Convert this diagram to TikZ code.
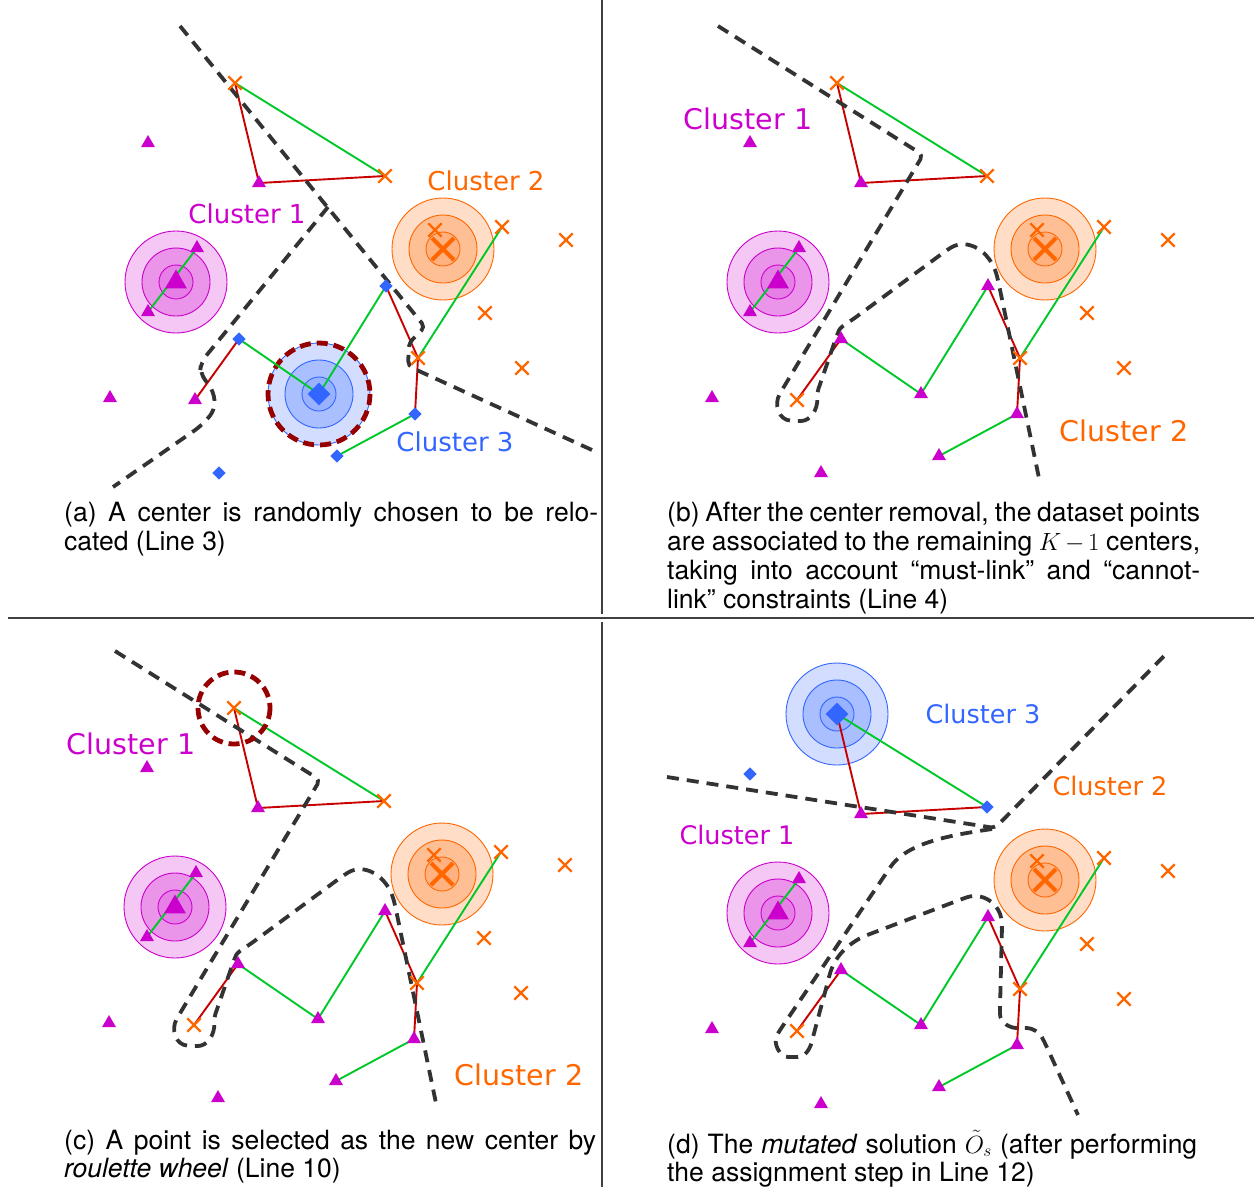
\documentclass[tikz,border=0pt]{standalone}
\usepackage{fontspec}
\setmainfont{TeX Gyre Heros}
\newfontfamily\dejavu{DejaVu Sans}
\usetikzlibrary{shapes.geometric,shapes.misc}
\definecolor{cmag}{RGB}{204,0,204}
\definecolor{corg}{RGB}{255,102,0}
\definecolor{cblu}{RGB}{51,102,255}
\definecolor{cgrn}{RGB}{0,200,40}
\definecolor{cred}{RGB}{200,0,0}
\definecolor{cdash}{RGB}{51,51,51}
\definecolor{cdred}{RGB}{150,0,0}

\newcommand\defpoints[1]{%
  \coordinate (#1p1) at (235,83);
  \coordinate (#1p2) at (385,176);
  \coordinate (#1p3) at (259,183);
  \coordinate (#1p4) at (148,143);
  \coordinate (#1mc) at (176,282);
  \coordinate (#1m1) at (197,248);
  \coordinate (#1m2) at (148,312);
  \coordinate (#1oc) at (443,249);
  \coordinate (#1o1) at (435,230);
  \coordinate (#1o2) at (502,227);
  \coordinate (#1o3) at (566,240);
  \coordinate (#1o4) at (485,313);
  \coordinate (#1o5) at (522,368);
  \coordinate (#1o6) at (418,358);
  \coordinate (#1q1) at (386,286);
  \coordinate (#1q2) at (239,339);
  \coordinate (#1qc) at (319,394);
  \coordinate (#1q3) at (415,414);
  \coordinate (#1q4) at (337,456);
  \coordinate (#1q5) at (219,473);
  \coordinate (#1r1) at (195,400);
  \coordinate (#1r2) at (110,398);
}
\newcommand\ringset[2]{%
  \draw[draw=#1, line width=0.9pt, fill=#1!22] (#2) circle[radius=51];
  \draw[draw=#1, line width=0.9pt, fill=#1!42] (#2) circle[radius=34];
  \draw[draw=#1, line width=0.9pt, fill=#1!50] (#2) circle[radius=17];
}
\newcommand\drawlinks[1]{%
  \draw[glink] (#1p1) -- (#1p2);
  \draw[rlink] (#1p1) -- (#1p3) -- (#1p2);
  \draw[glink] (#1m1) -- (#1m2);
  \draw[glink] (#1o2) -- (#1o6);
  \draw[glink] (#1q2) -- (#1qc) -- (#1q1);
  \draw[rlink] (#1q1) -- (#1o6) -- (#1q3);
  \draw[glink] (#1q3) -- (#1q4);
  \draw[rlink] (#1q2) -- (#1r1);
}
\newcommand\commonmarks[1]{%
  \node[tri] (#1Mp3) at (#1p3) {};
  \node[tri] (#1Mm1) at (#1m1) {};
  \node[tri] (#1Mm2) at (#1m2) {};
  \node[bigtri] (#1Mmc) at (#1mc) {};
  \node[bigcrs] (#1Moc) at (#1oc) {};
  \node[crs] (#1Mo1) at (#1o1) {};
  \node[crs] (#1Mo2) at (#1o2) {};
  \node[crs] (#1Mo3) at (#1o3) {};
  \node[crs] (#1Mo4) at (#1o4) {};
  \node[crs] (#1Mo5) at (#1o5) {};
  \node[crs] (#1Mo6) at (#1o6) {};
  \node[tri] (#1Mr2) at (#1r2) {};
}
\newcommand\trimarks[1]{%
  \node[tri] (#1Mq1) at (#1q1) {};
  \node[tri] (#1Mq2) at (#1q2) {};
  \node[tri] (#1Mqc) at (#1qc) {};
  \node[tri] (#1Mq3) at (#1q3) {};
  \node[tri] (#1Mq4) at (#1q4) {};
  \node[tri] (#1Mq5) at (#1q5) {};
  \node[crs] (#1Mr1) at (#1r1) {};
}
\newcommand\bcpath{%
  \draw[bound] (116,26) -- (321,155) -- (180,390)
    .. controls (172,404) and (176,420) .. (194,421)
    .. controls (208,421) and (216,410) .. (215,393)
    -- (235,335) .. controls (238,328) and (242,325) .. (250,320)
    -- (345,250) .. controls (365,238) and (388,250) .. (396,280)
    -- (438,483);
}

\begin{document}
\begin{tikzpicture}[x=1pt,y=-1pt,
  tri/.style={regular polygon, regular polygon sides=3, fill=cmag, draw=none, inner sep=0pt, minimum size=16pt},
  bigtri/.style={tri, minimum size=25pt},
  dia/.style={diamond, fill=cblu, draw=none, inner sep=0pt, minimum size=13.5pt},
  bigdia/.style={dia, minimum size=23pt},
  crs/.style={cross out, draw=corg, line width=2.4pt, inner sep=0pt, minimum size=11pt},
  bigcrs/.style={crs, line width=4pt, minimum size=18pt},
  glink/.style={draw=cgrn, line width=1.9pt},
  rlink/.style={draw=cred, line width=1.9pt},
  bound/.style={draw=cdash, line width=3.8pt, dash pattern=on 12pt off 8pt, rounded corners=5pt},
  pick/.style={draw=cdred, line width=4.8pt, dash pattern=on 11pt off 6pt},
  lab/.style={inner sep=0pt, font=\dejavu\fontsize{26}{30}\selectfont},
  labb/.style={inner sep=0pt, font=\dejavu\fontsize{28.5}{32}\selectfont},
  labd/.style={inner sep=0pt, font=\dejavu\fontsize{25.5}{30}\selectfont},
  capt/.style={anchor=base west, inner sep=0pt, font=\fontsize{26.5}{29}\selectfont},
  sep/.style={draw=black!75, line width=1.2pt}
]
\useasboundingbox (0,0) rectangle (1258,1187);

% separators
\draw[sep] (602,0) -- (602,614);
\draw[sep] (8,618) -- (1254,618);
\draw[sep] (602,622) -- (602,1187);

% ---------- panel (a)
\begin{scope}
  \defpoints{a}
  \ringset{cmag}{amc}
  \ringset{corg}{aoc}
  \ringset{cblu}{aqc}
  \draw[pick] (aqc) circle[radius=51];
  \drawlinks{a}
  \draw[bound] (180,26) -- (425,327) -- (409,343) -- (408,366) -- (592,450);
  \draw[bound, rounded corners=8pt] (328,207) -- (201,362) -- (200,373) -- (214,392) -- (215,410) -- (201,426) -- (113,487);
  \commonmarks{a}
  \node[crs] (aMp1) at (ap1) {};
  \node[crs] (aMp2) at (ap2) {};
  \node[tri] (aMp4) at (ap4) {};
  \node[dia] (aMq1) at (aq1) {};
  \node[dia] (aMq2) at (aq2) {};
  \node[bigdia] (aMqc) at (aqc) {};
  \node[dia] (aMq3) at (aq3) {};
  \node[dia] (aMq4) at (aq4) {};
  \node[dia] (aMq5) at (aq5) {};
  \node[tri] (aMr1) at (ar1) {};
\end{scope}
\node[lab, text=cmag] (aL1) at (247,214) {Cluster 1};
\node[lab, text=corg] (aL2) at (486,181) {Cluster 2};
\node[lab, text=cblu] (aL3) at (455,442) {Cluster 3};
\node[capt] (capa1) at (64,521) {\makebox[534pt][s]{(a) A center is randomly chosen to be relo-}};
\node[capt] (capa2) at (64,550) {cated (Line 3)};

% ---------- panel (b)
\begin{scope}[shift={(602,0)}]
  \defpoints{b}
  \ringset{cmag}{bmc}
  \ringset{corg}{boc}
  \drawlinks{b}
  \bcpath
  \commonmarks{b}
  \trimarks{b}
  \node[crs] (bMp1) at (bp1) {};
  \node[crs] (bMp2) at (bp2) {};
  \node[tri] (bMp4) at (bp4) {};
\end{scope}
\node[labb, text=cmag] (bL1) at (748,119) {Cluster 1};
\node[labb, text=corg] (bL2) at (1124,431) {Cluster 2};
\node[capt] (capb1) at (667,521) {\makebox[533pt][s]{(b) After the center removal, the dataset points}};
\node[capt] (capb2) at (667,550) {\makebox[533pt][s]{are associated to the remaining $K-1$ centers,}};
\node[capt] (capb3) at (667,579) {\makebox[533pt][s]{taking into account “must-link” and “cannot-}};
\node[capt] (capb4) at (667,608) {link” constraints (Line 4)};

% ---------- panel (c)
\begin{scope}[shift={(-1,625)}]
  \defpoints{c}
  \ringset{cmag}{cmc}
  \ringset{corg}{coc}
  \drawlinks{c}
  \bcpath
  \draw[pick] (cp1) circle[radius=36];
  \commonmarks{c}
  \trimarks{c}
  \node[crs] (cMp1) at (cp1) {};
  \node[crs] (cMp2) at (cp2) {};
  \node[tri] (cMp4) at (cp4) {};
\end{scope}
\node[labb, text=cmag] (cL1) at (131,744) {Cluster 1};
\node[labb, text=corg] (cL2) at (519,1075) {Cluster 2};
\node[capt] (capc1) at (64,1149) {\makebox[532pt][s]{(c) A point is selected as the new center by}};
\node[capt] (capc2) at (64,1177) {\textit{roulette wheel} (Line 10)};

% ---------- panel (d)
\begin{scope}[shift={(602,631)}]
  \defpoints{d}
  \ringset{cmag}{dmc}
  \ringset{corg}{doc}
  \ringset{cblu}{dp1}
  \drawlinks{d}
  \draw[bound] (65,146) -- (393,197) -- (563,24);
  \draw[bound] (390,198) .. controls (350,204) and (305,211) .. (285,241)
    -- (178,399) .. controls (170,412) and (178,426) .. (191,426)
    .. controls (203,426) and (208,418) .. (211,406)
    -- (226,350) .. controls (231,330) and (240,318) .. (260,306)
    -- (360,268) .. controls (380,261) and (398,272) .. (400,295)
    -- (398,378) .. controls (398,392) and (408,397) .. (420,397)
    .. controls (430,397) and (437,401) .. (442,410)
    -- (476,484);
  \commonmarks{d}
  \trimarks{d}
  \node[bigdia] (dMp1) at (dp1) {};
  \node[dia] (dMp2) at (dp2) {};
  \node[dia] (dMp4) at (dp4) {};
\end{scope}
\node[labd, text=cblu] (dL3) at (983,714) {Cluster 3};
\node[labd, text=corg] (dL2) at (1110,786) {Cluster 2};
\node[labd, text=cmag] (dL1) at (737,835) {Cluster 1};
\node[capt] (capd1) at (667,1153) {\makebox[530pt][s]{(d) The \textit{mutated} solution $\tilde{O}_s$ (after performing}};
\node[capt] (capd2) at (667,1181) {the assignment step in Line 12)};
\end{tikzpicture}
\end{document}
